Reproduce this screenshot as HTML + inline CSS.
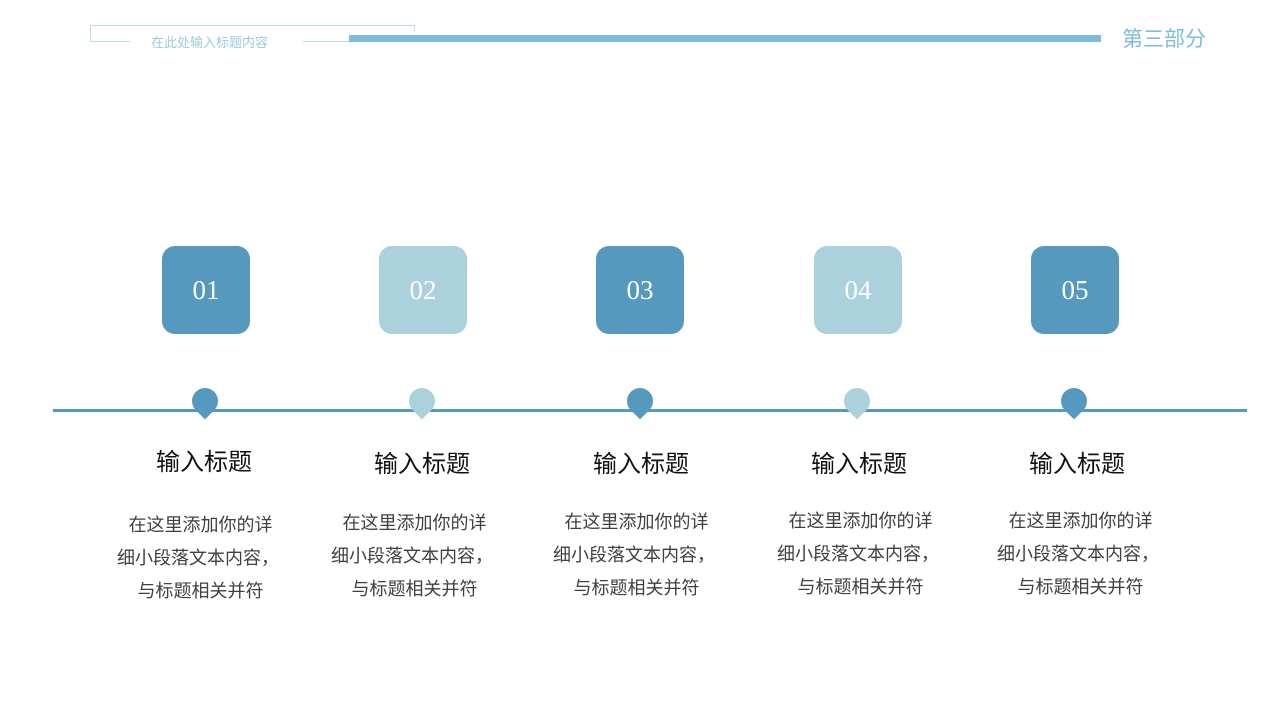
<!DOCTYPE html>
<html><head><meta charset="utf-8"><style>
*{margin:0;padding:0;box-sizing:border-box}
body{width:1280px;height:720px;background:#fff;position:relative;overflow:hidden;font-family:"Liberation Sans","Noto Sans CJK SC",sans-serif}
.a{position:absolute}
.box{position:absolute;top:246px;width:88px;height:88px;border-radius:13px;color:#fff;font-size:27px;text-align:center;line-height:88px;font-family:"Liberation Serif","Noto Sans CJK SC",serif}
.d{background:#5599bf}.l{background:#abd1dc}
.pin{position:absolute;top:388px;width:26px;height:26px;border-radius:50% 50% 0 50%;transform:rotate(45deg)}
.t{position:absolute;top:442px;width:200px;text-align:center;font-size:24px;color:#111}
.b{position:absolute;top:509px;width:220px;text-align:center;font-size:18px;color:#404040;line-height:33px}
</style></head><body>
<div class="a" style="left:90px;top:25px;width:325px;height:1px;background:#b9dce8"></div>
<div class="a" style="left:414px;top:25px;width:1px;height:6px;background:#b9dce8"></div>
<div class="a" style="left:90px;top:25px;width:1px;height:17px;background:#b9dce8"></div>
<div class="a" style="left:90px;top:41px;width:40px;height:1px;background:#b9dce8"></div>
<div class="a" style="left:151px;top:32px;font-size:13px;color:#9ccbe0">在此处输入标题内容</div>
<div class="a" style="left:303px;top:41px;width:46px;height:1px;background:#b9dce8"></div>
<div class="a" style="left:349px;top:35px;width:752px;height:7px;background:#7dbcda"></div>
<div class="a" style="left:1122px;top:23px;font-size:21px;color:#7dbcda">第三部分</div>
<div class="a" style="left:53px;top:409px;width:1194px;height:3px;background:#5599bf"></div>

<div class="box d" style="left:162px">01</div>
<div class="box l" style="left:379px">02</div>
<div class="box d" style="left:596px">03</div>
<div class="box l" style="left:814px">04</div>
<div class="box d" style="left:1031px">05</div>

<div class="pin d" style="left:192px"></div>
<div class="pin l" style="left:409px"></div>
<div class="pin d" style="left:627px"></div>
<div class="pin l" style="left:844px"></div>
<div class="pin d" style="left:1061px"></div>

<div class="t" style="left:104px">输入标题</div>
<div class="t" style="left:322px;top:444px">输入标题</div>
<div class="t" style="left:541px;top:444px">输入标题</div>
<div class="t" style="left:759px;top:444px">输入标题</div>
<div class="t" style="left:977px;top:444px">输入标题</div>

<div class="b" style="left:88px">&nbsp;在这里添加你的详<br>细小段落文本内容，<br>&nbsp;与标题相关并符</div>
<div class="b" style="left:302px;top:507px">&nbsp;在这里添加你的详<br>细小段落文本内容，<br>&nbsp;与标题相关并符</div>
<div class="b" style="left:524px;top:506px">&nbsp;在这里添加你的详<br>细小段落文本内容，<br>&nbsp;与标题相关并符</div>
<div class="b" style="left:748px;top:505px">&nbsp;在这里添加你的详<br>细小段落文本内容，<br>&nbsp;与标题相关并符</div>
<div class="b" style="left:968px;top:505px">&nbsp;在这里添加你的详<br>细小段落文本内容，<br>&nbsp;与标题相关并符</div>
</body></html>
